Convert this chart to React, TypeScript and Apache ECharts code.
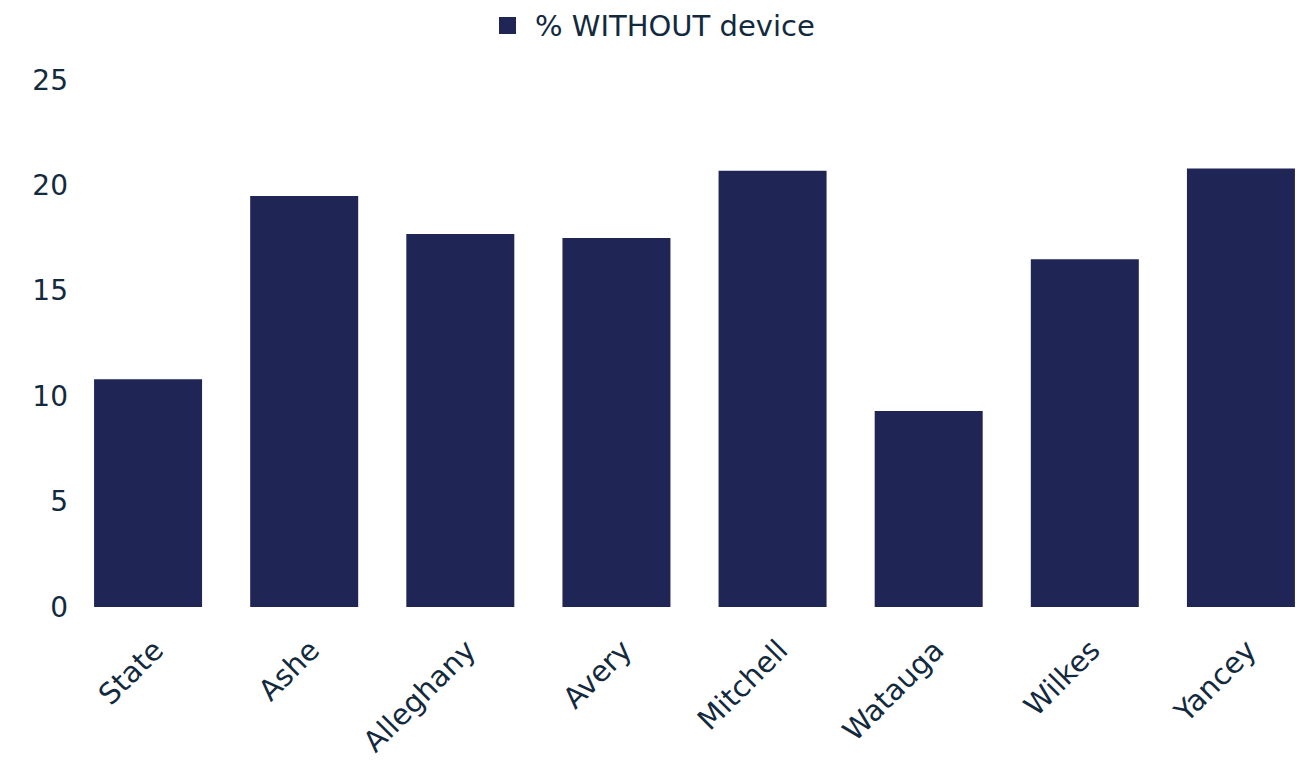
import React, { useEffect, useRef } from "react";
import * as echarts from "echarts";

const categories = ["State", "Ashe", "Alleghany", "Avery", "Mitchell", "Watauga", "Wilkes", "Yancey"];
const withoutDevice = [10.8, 19.5, 17.7, 17.5, 20.7, 9.3, 16.5, 20.8];
const seriesName = "% WITHOUT device";

export default function App() {
  const ref = useRef<HTMLDivElement>(null);
  useEffect(() => {
    if (!ref.current) return;
    const chart = echarts.init(ref.current, null, { renderer: "svg" });
    const textColor = "#132a3e";
    const font = "DejaVu Sans";
    chart.setOption({
      animation: false,
      backgroundColor: "#ffffff",
      legend: {
        top: 6,
        left: 494,
        itemWidth: 17,
        itemHeight: 17,
        icon: "rect",
        textStyle: {
          fontSize: 29,
          color: textColor,
          fontFamily: font,
          padding: [0, 0, 0, 14],
        },
        data: [seriesName],
      },
      grid: { left: 70, right: 0, top: 80, bottom: 160, containLabel: false },
      xAxis: {
        type: "category",
        data: categories,
        axisLine: { show: false },
        axisTick: { show: false },
        axisLabel: {
          rotate: 45,
          fontSize: 29,
          color: textColor,
          fontFamily: font,
          margin: 48,
          padding: [0, -14, 0, 0],
        },
      },
      yAxis: {
        type: "value",
        min: 0,
        max: 25,
        interval: 5,
        splitLine: { show: false },
        axisLine: { show: false },
        axisTick: { show: false },
        axisLabel: { fontSize: 28, color: textColor, fontFamily: font, margin: 2 },
      },
      series: [
        {
          name: seriesName,
          type: "bar",
          data: withoutDevice,
          barWidth: 108,
          itemStyle: { color: "#1f2656" },
        },
      ],
    });
    return () => chart.dispose();
  }, []);
  return (
    <div style={{ position: "absolute", left: 0, top: 0, width: 1304, height: 767, overflow: "hidden" }}>
      <div ref={ref} style={{ width: 1319, height: 767 }} />
    </div>
  );
}
